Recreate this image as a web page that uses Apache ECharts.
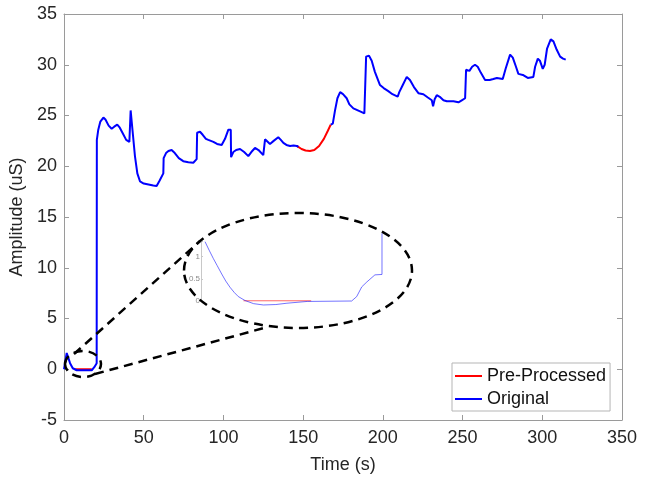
<!DOCTYPE html>
<html>
<head>
<meta charset="utf-8">
<script src="https://cdn.jsdelivr.net/npm/echarts@6/dist/echarts.min.js"></script>
<style>
  html, body { margin: 0; padding: 0; background: #fff; }
  #main { width: 647px; height: 480px; }
</style>
</head>
<body>
<div id="main"></div>
<script>
var dom = document.getElementById('main');
var myChart = echarts.init(dom);

// 原始信号 (Original) [time, amplitude], null = 断开
var originalData = [
    [0, 0], [1.7, 1.6], [3.8, 0.6], [5.5, 0.1], [8, -0.1], [17.4, -0.1], [19, 0.2], [20.5, 0.6],
    [20.6, 22.6], [21.5, 23.6], [22.8, 24.4], [24.7, 24.8], [26, 24.6], [28, 24.0], [29.9, 23.7],
    [31.5, 23.9], [33.4, 24.1], [35, 23.8], [37, 23.2], [39, 22.6], [41, 22.4], [41.8, 25.5],
    [43, 23.5], [44.5, 21], [46, 19.3], [47.7, 18.5], [50, 18.3], [53, 18.2], [56, 18.1],
    [58.1, 18.05], [60, 18.6], [62.3, 19.3], [62.5, 20.8], [64, 21.3], [65.5, 21.5], [67.5, 21.6],
    [69.5, 21.3], [72, 20.8], [74.8, 20.5], [78, 20.4], [81.1, 20.35], [83.2, 20.7], [83.5, 23.3],
    [85.3, 23.4], [87, 23.1], [89, 22.7], [90.5, 22.6], [93.7, 22.4], [96, 22.2], [98.9, 22.1],
    [101, 22.7], [103.1, 23.6], [104.6, 23.6], [104.8, 20.9], [106.2, 21.4], [108, 21.6],
    [110.4, 21.7], [113, 21.4], [115.6, 21.0], [117.5, 21.4], [119.8, 21.8], [122, 21.6],
    [125, 21.1], [126.1, 22.65], [127, 22.6], [129.2, 22.2], [131.5, 22.5], [134.4, 22.85],
    [136, 22.6], [137.6, 22.3], [139.5, 22.1], [141.8, 22.0], [144, 22.05], [146, 22.0], [147, 21.9],
    null,
    [167.3, 24.1], [168.6, 24.2], [170, 25.5], [171.5, 26.7], [173.2, 27.3], [175, 27.1],
    [177.3, 26.7], [179, 26.1], [181.5, 25.7], [185.7, 25.4], [188.4, 25.2], [189.5, 30.8],
    [191.3, 30.9], [193, 30.4], [195, 29.3], [198.2, 28.0], [200.5, 27.7], [203.4, 27.4],
    [206, 27.1], [209.3, 26.85], [210.3, 27.3], [212.5, 28.0], [215, 28.8], [217, 28.5],
    [219.5, 27.8], [222.3, 27.2], [225.4, 27.1], [228, 26.8], [230.7, 26.5], [231.5, 25.9],
    [232.5, 26.6], [233.8, 27.0], [236, 26.8], [238, 26.5], [240.1, 26.4], [244.3, 26.4],
    [247.4, 26.3], [249.5, 26.5], [251.6, 26.7], [252.2, 29.5], [254.3, 29.4], [256, 29.8],
    [257.8, 30.0], [259.5, 29.8], [261.5, 29.2], [264.1, 28.5], [267, 28.5], [269.3, 28.6],
    [271.5, 28.7], [275.2, 28.6], [277, 29.6], [279.8, 31.0], [281.5, 30.7], [283.5, 29.8],
    [285, 29.1], [287.8, 29.0], [290.9, 28.7], [294.4, 28.8], [295.5, 29.8], [297.2, 30.6],
    [298.5, 30.4], [300.3, 29.6], [301.5, 30.0], [303, 31.6], [305.3, 32.5], [307, 32.3],
    [309, 31.5], [311.2, 30.8], [313, 30.6], [314.7, 30.5]
];

// 预处理后 (Pre-Processed)，只画和原始不同的部分
var processedData = [
    [7, 0], [17.4, 0],
    null,
    [146, 22.0], [147, 21.9], [149, 21.7], [151.5, 21.55], [154.3, 21.5], [157, 21.6],
    [160, 22.0], [163, 22.7], [165.5, 23.5], [167.3, 24.1]
];

// 放大图数据
var insetOriginal = [
    [3.0, 1.34], [3.4, 1.15], [3.82, 0.96], [4.2, 0.8], [4.65, 0.61], [5.05, 0.45], [5.47, 0.31],
    [5.9, 0.19], [6.29, 0.10], [6.96, 0.01], [7.8, -0.06], [8.77, -0.09], [10, -0.08],
    [11.1, -0.05], [13.1, -0.01], [17.5, 0], [18.0, 0.1], [18.5, 0.32],
    [19.0, 0.43], [19.8, 0.59], [20.5, 0.6], [20.5, 1.53]
];
var insetProcessed = [[6.8, 0.005], [13.5, 0.005]];
var insetTicks = [0, 0.5, 1];

var xTicks = [0, 50, 100, 150, 200, 250, 300, 350];
var yTicks = [-5, 0, 5, 10, 15, 20, 25, 30, 35];

var axisColor = '#9a9a9a';
var textColor = '#262626';
var font = 'Liberation Sans, Arial, sans-serif';

option = {
    backgroundColor: '#fff',
    animation: false,
    grid: [
        {left: 64, right: 25, top: 14, bottom: 60},
        {left: 201, width: 182, top: 241.7, height: 59.3}   // 放大图
    ],
    xAxis: [
        {
            type: 'value', gridIndex: 0, min: xTicks[0], max: xTicks[xTicks.length - 1], interval: 50,
            name: 'Time (s)', nameLocation: 'middle', nameGap: 36,
            nameTextStyle: {color: textColor, fontSize: 18, fontFamily: font},
            axisLine: {onZero: false, lineStyle: {color: axisColor}},
            axisTick: {inside: true, length: 5, lineStyle: {color: axisColor}},
            axisLabel: {color: textColor, fontSize: 18, fontFamily: font, margin: 9},
            splitLine: {show: false}
        },
        {
            type: 'value', gridIndex: 0, position: 'top', min: 0, max: 350, interval: 50,
            axisLine: {onZero: false, lineStyle: {color: axisColor}},
            axisTick: {inside: true, length: 5, lineStyle: {color: axisColor}},
            axisLabel: {show: false}, splitLine: {show: false}
        },
        {
            type: 'value', gridIndex: 1, min: 2.6, max: 20.6, show: false
        }
    ],
    yAxis: [
        {
            type: 'value', gridIndex: 0, min: yTicks[0], max: yTicks[yTicks.length - 1], interval: 5,
            name: 'Amplitude (uS)', nameLocation: 'middle', nameGap: 27,
            nameTextStyle: {color: textColor, fontSize: 18, fontFamily: font},
            axisLine: {show: true, onZero: false, lineStyle: {color: axisColor}},
            axisTick: {show: true, inside: true, length: 5, lineStyle: {color: axisColor}},
            axisLabel: {color: textColor, fontSize: 18, fontFamily: font, margin: 7},
            splitLine: {show: false}
        },
        {
            type: 'value', gridIndex: 0, position: 'right', min: -5, max: 35, interval: 5,
            axisLine: {show: true, onZero: false, lineStyle: {color: axisColor}},
            axisTick: {show: true, inside: true, length: 5, lineStyle: {color: axisColor}},
            axisLabel: {show: false}, splitLine: {show: false}
        },
        {
            type: 'value', gridIndex: 1, min: 0, max: 1.34, interval: 0.5,
            axisLine: {show: true, onZero: false, lineStyle: {color: '#c8c8c8', width: 1}},
            axisTick: {show: true, inside: true, length: 2, lineStyle: {color: '#c8c8c8'}},
            axisLabel: {
                color: '#8a8a8a', fontSize: 8, fontFamily: font, margin: 1,
                showMinLabel: true,
                customValues: insetTicks,
                formatter: function (v) { return String(v); }
            },
            splitLine: {show: false}
        }
    ],
    legend: {
        orient: 'vertical',
        left: 452, top: 363,
        padding: [3, 4, 2, 3],
        itemWidth: 27, itemHeight: 2, itemGap: 3,
        backgroundColor: '#fff',
        borderColor: '#b5b5b5', borderWidth: 1,
        textStyle: {color: '#111', fontSize: 18, fontFamily: font, lineHeight: 20},
        data: [
            {name: 'Pre-Processed', icon: 'rect'},
            {name: 'Original', icon: 'rect'}
        ]
    },
    series: [
        {
            name: 'Pre-Processed', type: 'line', xAxisIndex: 0, yAxisIndex: 0,
            data: processedData, symbol: 'none', connectNulls: false,
            lineStyle: {color: '#ff0000', width: 2}, itemStyle: {color: '#ff0000'}, z: 2
        },
        {
            name: 'Original', type: 'line', xAxisIndex: 0, yAxisIndex: 0,
            data: originalData, symbol: 'none', connectNulls: false,
            lineStyle: {color: '#0000ff', width: 2}, itemStyle: {color: '#0000ff'}, z: 3
        },
        {
            name: 'inset-pp', type: 'line', xAxisIndex: 2, yAxisIndex: 2,
            data: insetProcessed, symbol: 'none', clip: false,
            lineStyle: {color: 'rgba(255,0,0,0.6)', width: 1}, z: 4
        },
        {
            name: 'inset-orig', type: 'line', xAxisIndex: 2, yAxisIndex: 2,
            data: insetOriginal, symbol: 'none', clip: false,
            lineStyle: {color: 'rgba(0,0,255,0.55)', width: 1}, z: 5
        }
    ],
    graphic: [
        {
            type: 'ellipse', z: 100, silent: true,
            shape: {cx: 298, cy: 270.5, rx: 114, ry: 57.5},
            style: {fill: 'none', stroke: '#000', lineWidth: 2.5, lineDash: [9, 6]}
        },
        {
            type: 'ellipse', z: 100, silent: true,
            shape: {cx: 83, cy: 364, rx: 18, ry: 13},
            style: {fill: 'none', stroke: '#000', lineWidth: 2.5, lineDash: [9, 6]}
        },
        {
            type: 'line', z: 100, silent: true,
            shape: {x1: 74, y1: 354, x2: 200, y2: 241},
            style: {stroke: '#000', lineWidth: 2.5, lineDash: [9, 6]}
        },
        {
            type: 'line', z: 100, silent: true,
            shape: {x1: 95, y1: 374, x2: 264, y2: 328},
            style: {stroke: '#000', lineWidth: 2.5, lineDash: [9, 6]}
        }
    ]
};

if (option && typeof option === 'object') {
    myChart.setOption(option, true);
}
</script>
</body>
</html>
